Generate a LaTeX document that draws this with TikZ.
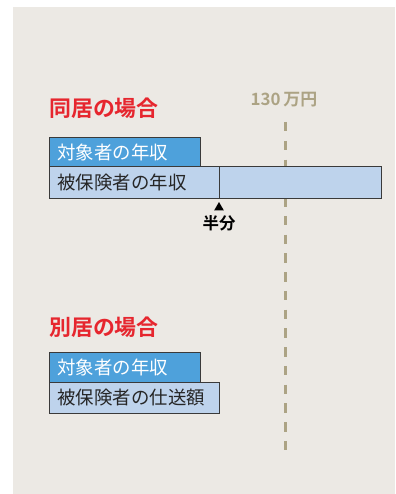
\documentclass[tikz,border=0pt]{standalone}
\usepackage{fontspec}
\usepackage{tikz}
\usetikzlibrary{shapes.geometric}
\newfontfamily\jp{Noto Sans CJK JP}[BoldFont={Noto Sans CJK JP Bold}]
\definecolor{bgcol}{HTML}{ECE9E4}
\definecolor{headred}{HTML}{E6262E}
\definecolor{limitcol}{HTML}{ACA384}
\definecolor{darkblue}{HTML}{4EA1DB}
\definecolor{lightblue}{HTML}{BED3EC}
\definecolor{edgecol}{HTML}{3A3A3A}

\begin{document}
\begin{tikzpicture}[x=1bp,y=-1bp,
    heading/.style={font=\jp\bfseries\fontsize{22}{24}\selectfont, text=headred, anchor=west, inner sep=0pt},
    bar/.style={draw=edgecol, line width=0.9bp, anchor=north west, inner xsep=8bp, inner ysep=0pt,
      minimum height=#1, align=left, font=\jp\fontsize{18.5}{20}\selectfont},
    incomebox/.style={bar=29.5bp, fill=darkblue, text=white},
    payerbox/.style={bar=31bp, fill=lightblue, text=black!85}]
   \fill[bgcol] (13,7) rectangle (395,494);
   \useasboundingbox (0,0) rectangle (395,494);

   % 130万円 line
   \node[font=\jp\bfseries\fontsize{17}{18}\selectfont, text=limitcol, inner sep=0pt] (limit) at (284,100) {130\,万円};
   \coordinate (ltop) at (285,122);
   \coordinate (lbot) at (285,451);
   \draw[limitcol, line width=3bp, dash pattern=on 9.5bp off 9.26bp] (ltop) -- (lbot);

   % living together
   \node[heading] (h1) at (49,108) {同居の場合};
   \node[incomebox, text width=135bp] (a1) at (49,137) {対象者の年収};
   \node[payerbox, text width=316bp] (b1) at (49,166.5) {被保険者の年収};
   \coordinate (half) at (219,166.5);
   \draw[edgecol, line width=0.9bp] (half) -- (half |- b1.south);
   \node[regular polygon, regular polygon sides=3, fill=black, inner sep=0pt, minimum size=11bp] (tri) at (219,207.5) {};
   \node[font=\jp\bfseries\fontsize{16.5}{18}\selectfont, inner sep=0pt] (half label) at (219,223) {半分};

   % living apart
   \node[heading] (h2) at (49,327) {別居の場合};
   \node[incomebox, text width=135bp] (a2) at (49,352) {対象者の年収};
   \node[payerbox, text width=154bp] (b2) at (49,382) {被保険者の仕送額};
\end{tikzpicture}
\end{document}
